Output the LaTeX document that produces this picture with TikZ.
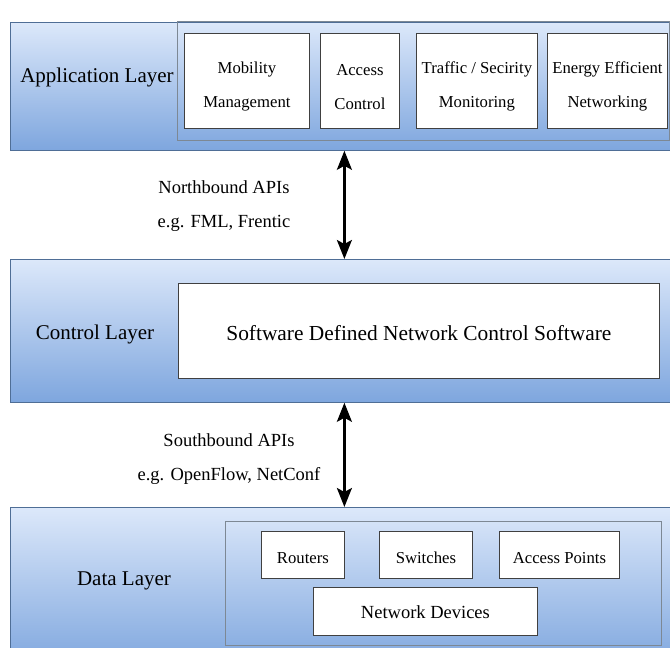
\documentclass[tikz,border=0pt]{standalone}
\usepackage{fontspec}
\setmainfont{Liberation Serif}
\usetikzlibrary{arrows.meta,positioning}

\definecolor{layTop}{HTML}{DCE8FA}
\definecolor{layBot}{HTML}{7EA6DE}
\definecolor{layLine}{HTML}{4F6E96}
\definecolor{grpLine}{HTML}{7D8894}

\begin{document}
\begin{tikzpicture}[
	x = 1pt, y = -1pt,
	layer/.style = {draw=layLine, top color=layTop, bottom color=layBot, line width=0.8pt,
		minimum width=660pt, anchor=north west, inner sep=0pt},
	group/.style = {draw=grpLine, line width=0.8pt, anchor=north west, inner sep=0pt},
	box/.style = {draw=black!75, fill=white, line width=0.8pt, anchor=north west, inner sep=0pt},
	boxtxt/.style = {align=center, inner sep=0pt, yshift=-6pt},
	lbl/.style = {font=\fontsize{21}{24}\selectfont},
	api/.style = {align=center, font=\fontsize{18.5}{34}\selectfont},
	biarrow/.style = {{Stealth[length=19pt,width=15pt,inset=4pt]}-{Stealth[length=19pt,width=15pt,inset=4pt]}, line width=2.4pt}
	]

	\useasboundingbox (0,0) rectangle (670,648);
	\clip (0,0) rectangle (670,648);

	% application layer
	\node[layer, minimum height=128pt] (app) at (10,22) {};
	\node[group, minimum width=492pt, minimum height=119pt] (appgrp) at (177,21) {};
	\node[lbl] (applbl) at (97,77) {Application Layer};
	\node[box, minimum width=125pt, minimum height=95pt] (mob) at (184,33) {};
	\node[box, minimum width=79pt, minimum height=95pt] (acc) at (320,33) {};
	\node[box, minimum width=121pt, minimum height=95pt] (traf) at (416,33) {};
	\node[box, minimum width=120pt, minimum height=95pt] (energy) at (547,33) {};
	\foreach \b/\t in {mob/{Mobility\\Management}, acc/{Access\\Control},
		traf/{Traffic / Secirity\\Monitoring}, energy/{Energy Efficient\\Networking}}
		\node[boxtxt, font=\fontsize{16.7}{34}\selectfont] (\b txt) at (\b.center) {\t};

	% control layer
	\node[layer, minimum height=143pt] (ctrl) at (10,259) {};
	\node[lbl] (ctrllbl) at (95,334) {Control Layer};
	\node[box, minimum width=481pt, minimum height=95pt] (sdn) at (178,283) {};
	\node[boxtxt, font=\fontsize{21.4}{24}\selectfont, yshift=4pt] (sdntxt) at (sdn.center) {Software Defined Network Control Software};

	% data layer
	\node[layer, minimum height=160pt] (data) at (10,507) {};
	\node[group, minimum width=436pt, minimum height=124pt] (datagrp) at (225,521) {};
	\node[lbl] (datalbl) at (124,581) {Data Layer};
	\node[box, minimum width=83pt, minimum height=47pt] (rout) at (261,531) {};
	\node[box, minimum width=93pt, minimum height=47pt] (swit) at (379,531) {};
	\node[box, minimum width=120pt, minimum height=47pt] (ap) at (499,531) {};
	\node[box, minimum width=224pt, minimum height=48pt] (netdev) at (313,587) {};
	\foreach \b/\t in {rout/Routers, swit/Switches, ap/Access Points}
		\node[boxtxt, font=\fontsize{16.7}{20}\selectfont, yshift=3pt] (\b txt) at (\b.center) {\t};
	\node[boxtxt, font=\fontsize{18.5}{20}\selectfont, yshift=5pt] (netdevtxt) at (netdev.center) {Network Devices};

	% interfaces
	\draw[biarrow] ([xshift=4pt]app.south) -- ([xshift=4pt]ctrl.north);
	\draw[biarrow] ([xshift=4pt]ctrl.south) -- ([xshift=4pt]data.north);
	\node[api] (north) at (224,206) {Northbound APIs\\e.g. FML, Frentic};
	\node[api] (south) at (229,459) {Southbound APIs\\e.g. OpenFlow, NetConf};

\end{tikzpicture}
\end{document}
